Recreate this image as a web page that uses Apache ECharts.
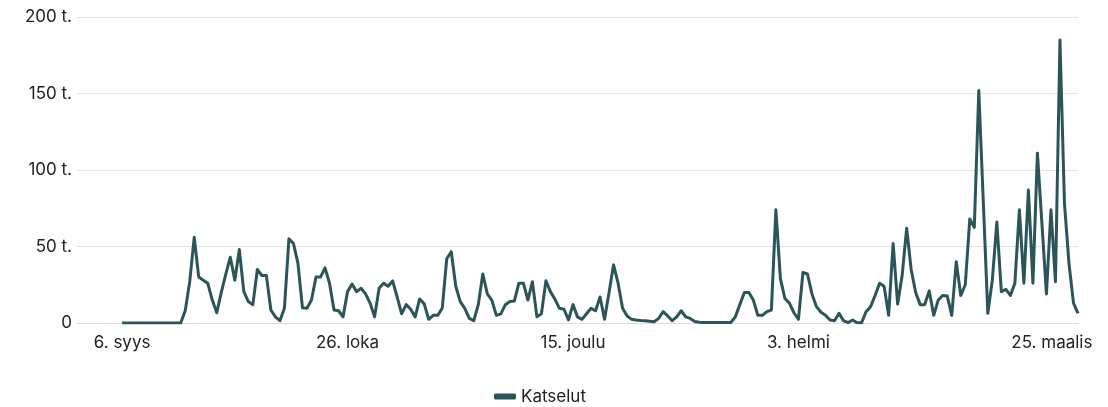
<!DOCTYPE html>
<html>
<head>
<meta charset="utf-8">
<script src="https://cdn.jsdelivr.net/npm/echarts@6/dist/echarts.min.js"></script>
<style>
  html, body { margin: 0; padding: 0; background: #fff; }
  #chart { width: 1108px; height: 407px; }
</style>
</head>
<body>
<div id="chart"></div>
<script>
// daily views (thousands), day 0 = 6. syys
var views = [
  0, 0, 0, 0, 0, 0, 0, 0, 0, 0, 0, 0, 0, 0, 8, 27, 56, 30, 28, 26,
  15, 6.7, 20, 32, 43, 28, 48, 20.5, 14, 12, 35, 31, 31, 8.5, 4, 1.5, 9.6, 55, 52, 39,
  10, 9.6, 15, 30, 30, 36, 26, 8.5, 8, 4, 20.5, 25.5, 20.5, 22.7, 19, 13, 4, 22.7, 26, 24,
  27.5, 17, 6, 12, 9, 4, 15.7, 12.5, 2.4, 5, 5, 9.6, 42, 46.6, 24, 14, 9.6, 3, 1.5, 12,
  32, 19, 15, 5, 6, 12, 14, 14.4, 26, 26, 15, 27, 4, 6, 27.6, 20.5, 15.5, 9.6, 9, 2,
  12, 4, 2.4, 6, 9.6, 8, 17, 2.4, 20, 38, 26, 9.6, 4.6, 2.4, 2, 1.7, 1.5, 1.2, 0.8, 3,
  7.4, 4.6, 1.5, 4, 8, 4, 3, 1, 0.5, 0.3, 0.3, 0.3, 0.3, 0.3, 0.3, 0.3, 4, 12, 20, 20,
  15, 5, 5, 7.4, 8.5, 74, 29, 16, 13, 6.7, 2.4, 33, 32, 19, 10.7, 7, 5, 2, 1.5, 6.3,
  1.5, 0.2, 2, 0.2, 0.2, 7.4, 10.7, 18, 26, 24, 5, 52, 12.4, 31, 62, 35, 20, 12, 12, 21,
  5, 15, 18, 17.6, 5, 40, 18, 25, 68, 62.5, 152, 79, 6.3, 28, 66, 20.5, 22, 18, 26, 74,
  26, 87, 26, 111, 65, 19, 74, 27, 185, 78, 39, 13, 6.3
];
var tickDays = [0, 50, 100, 150, 200];
var tickLabels = ['6. syys', '26. loka', '15. joulu', '3. helmi', '25. maalis'];
var yTicks = [0, 50, 100, 150, 200];

var chart = echarts.init(document.getElementById('chart'));
var font = 'Inter';
var textColor = '#222';
var option = {
    animation: false,
    textStyle: { fontFamily: font },
    grid: { left: 77, right: 30, top: 17, bottom: 84 },
    legend: {
        top: 388,
        left: 494,
        padding: 0,
        icon: 'roundRect',
        itemWidth: 22,
        itemHeight: 6,
        textStyle: { color: textColor, fontSize: 17, fontFamily: font },
        data: ['Katselut']
    },
    xAxis: {
        type: 'value',
        min: -10,
        max: views.length - 1,
        axisLine: { show: true, lineStyle: { color: '#dedede', width: 1 } },
        axisTick: { show: false },
        splitLine: { show: false },
        axisLabel: {
            customValues: tickDays,
            margin: 11,
            color: textColor,
            fontSize: 17,
            fontFamily: font,
            formatter: function (v) {
                var i = tickDays.indexOf(v);
                if (i < 0) return '';
                if (i === tickDays.length - 1) return '{last|' + tickLabels[i] + '}';
                return tickLabels[i];
            },
            rich: {
                last: { padding: [0, 0, 0, 56], color: textColor, fontSize: 17, fontFamily: font }
            }
        }
    },
    yAxis: {
        type: 'value',
        min: yTicks[0],
        max: yTicks[yTicks.length - 1],
        interval: 50,
        axisLine: { show: false },
        axisTick: { show: false },
        splitLine: { lineStyle: { color: '#e3e3e3', width: 1 } },
        axisLabel: {
            margin: 5,
            color: textColor,
            fontSize: 17,
            fontFamily: font,
            formatter: function (v) { return v === 0 ? '0' : v + ' t.'; }
        }
    },
    series: [{
        name: 'Katselut',
        type: 'line',
        showSymbol: false,
        color: '#2c5559',
        lineStyle: { width: 3, color: '#2c5559', join: 'round' },
        data: views.map(function (v, i) { return [i, v]; })
    }]
};
chart.setOption(option);
</script>
</body>
</html>
